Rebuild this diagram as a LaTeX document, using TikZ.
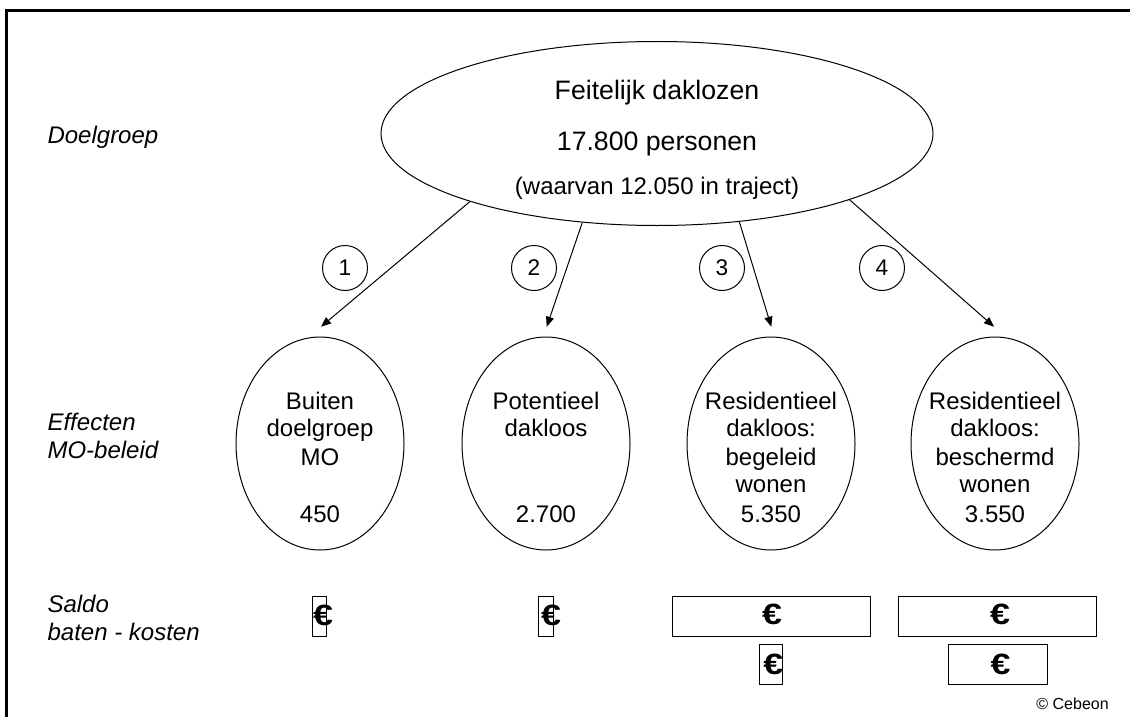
\documentclass[tikz,border=0pt]{standalone}
\usepackage{fontspec}
\setmainfont{Liberation Sans}
\usetikzlibrary{shapes.geometric,arrows.meta}
\newcommand{\eur}{\scalebox{1.22}[1]{€}}
\begin{document}
\begin{tikzpicture}[x=0.75pt,y=-0.75pt,
  bigell/.style={draw, ellipse, line width=0.75pt, minimum width=414pt, minimum height=138pt, inner sep=0pt},
  smallell/.style={draw, ellipse, line width=0.75pt, minimum width=126pt, minimum height=159.75pt, inner sep=0pt},
  numcirc/.style={draw, circle, line width=0.75pt, minimum size=33.75pt, inner sep=0pt, font=\fontsize{17pt}{20pt}\selectfont},
  bigtxt/.style={anchor=base, inner sep=0pt, font=\fontsize{20pt}{24pt}\selectfont},
  midtxt/.style={anchor=base, inner sep=0pt, font=\fontsize{18pt}{21pt}\selectfont},
  lbl/.style={anchor=base west, inner sep=0pt, font=\fontsize{18pt}{21pt}\selectfont\itshape},
  eurobox/.style={draw, rectangle, line width=0.75pt, minimum height=30pt, inner sep=0pt},
  eurosym/.style={inner sep=0pt, font=\fontsize{22pt}{26pt}\selectfont\bfseries},
  arr/.style={-{Triangle[length=7.5pt,width=6pt]}, line width=0.75pt},
  copy/.style={anchor=base east, inner sep=0pt, font=\fontsize{12pt}{14pt}\selectfont}
]
\useasboundingbox (0,0) rectangle (1130,717);
% frame
\draw[line width=2pt] (1130,10.7) -- (6.2,10.7) -- (6.2,717);

% left labels
\node[lbl] (lab1) at (47.3,143) {Doelgroep};
\node[lbl] (lab2a) at (47.3,430) {Effecten};
\node[lbl] (lab2b) at (47.3,458) {MO-beleid};
\node[lbl] (lab3a) at (47.3,612) {Saldo};
\node[lbl] (lab3b) at (47.3,640) {baten - kosten};

% big ellipse
\node[bigell] (big) at (657,133.5) {};
\node[bigtxt] (bt1) at (657,99.3) {Feitelijk daklozen};
\node[bigtxt] (bt2) at (657,150) {17.800 personen};
\node[midtxt] (bt3) at (657,194) {(waarvan 12.050 in traject)};

% small ellipses
\node[smallell] (e1) at (320,443.5) {};
\node[smallell] (e2) at (546,443.5) {};
\node[smallell] (e3) at (771,443.5) {};
\node[smallell] (e4) at (995,443.5) {};

\node[midtxt] (e1a) at (320,409.3) {Buiten};
\node[midtxt] (e1b) at (320,436.7) {doelgroep};
\node[midtxt] (e1c) at (320,465) {MO};
\node[midtxt] (e1n) at (320,522.7) {450};

\node[midtxt] (e2a) at (546,409.3) {Potentieel};
\node[midtxt] (e2b) at (546,436.7) {dakloos};
\node[midtxt] (e2n) at (546,522.7) {2.700};

\node[midtxt] (e3a) at (771,409.3) {Residentieel};
\node[midtxt] (e3b) at (771,436.7) {dakloos:};
\node[midtxt] (e3c) at (771,465) {begeleid};
\node[midtxt] (e3d) at (771,492.7) {wonen};
\node[midtxt] (e3n) at (771,522.7) {5.350};

\node[midtxt] (e4a) at (995,409.3) {Residentieel};
\node[midtxt] (e4b) at (995,436.7) {dakloos:};
\node[midtxt] (e4c) at (995,465) {beschermd};
\node[midtxt] (e4d) at (995,492.7) {wonen};
\node[midtxt] (e4n) at (995,522.7) {3.550};

% arrows
\coordinate (t1) at (321,326.7);
\coordinate (t2) at (546.7,326.7);
\coordinate (t3) at (771.3,326.7);
\coordinate (t4) at (994,326.7);
\draw[arr] (big.-160.3) -- (t1);
\draw[arr] (big.-130.7) -- (t2);
\draw[arr] (big.-47.2) -- (t3);
\draw[arr] (big.-19.7) -- (t4);

% numbered circles
\node[numcirc] (c1) at (345,268) {1};
\node[numcirc] (c2) at (534,268) {2};
\node[numcirc] (c3) at (722,268) {3};
\node[numcirc] (c4) at (882,268) {4};

% euro boxes
\node[eurobox, minimum width=10.8pt] (b1) at (319.5,616) {};
\node[eurosym] (s1) at (323,615) {\eur};
\node[eurobox, minimum width=11.2pt] (b2) at (545.8,616) {};
\node[eurosym] (s2) at (551,615) {\eur};
\node[eurobox, minimum width=148.8pt] (b3) at (771.5,616) {};
\node[eurosym] (s3) at (772,614) {\eur};
\node[eurobox, minimum width=148.3pt] (b4) at (997.2,616) {};
\node[eurosym] (s4) at (1000,614) {\eur};
\node[eurobox, minimum width=17pt] (b5) at (771.3,664) {};
\node[eurosym] (s5) at (773.3,664) {\eur};
\node[eurobox, minimum width=74pt] (b6) at (998.3,664) {};
\node[eurosym] (s6) at (1000.5,664) {\eur};

\node[copy] (cc) at (1109,709) {© Cebeon};
\end{tikzpicture}
\end{document}
